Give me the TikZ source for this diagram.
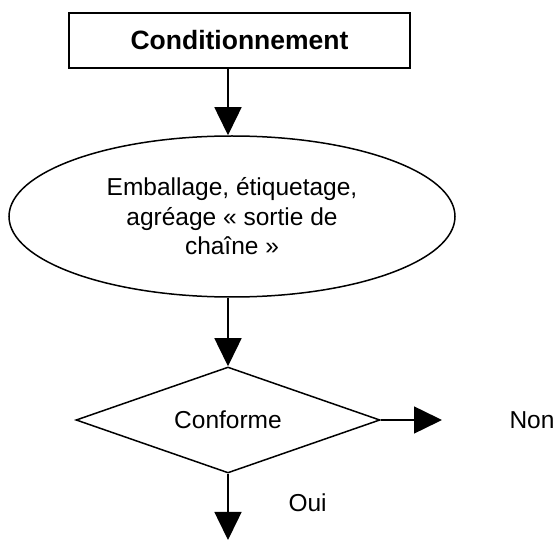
\documentclass[tikz,border=0pt]{standalone}
\usepackage{fontspec}
\setmainfont{Liberation Sans}
\usepackage{tikz}
\usetikzlibrary{shapes,arrows.meta,positioning,calc}
\tikzstyle{flow} = [-{Triangle[width=27pt,length=28pt]}, line width=1.5pt]

\begin{document}
\begin{tikzpicture}[x=1pt,y=-1pt]
    \tikzstyle{titlebox} = [rectangle, draw, line width=2.5pt, minimum width=341pt, minimum height=55pt, inner sep=0pt, font=\fontsize{26.5}{30}\selectfont\bfseries]
    \tikzstyle{process} = [ellipse, draw, line width=1.5pt, minimum width=446pt, minimum height=161pt, inner sep=0pt, align=center, font=\fontsize{24.5}{29.5}\selectfont]
    \tikzstyle{test} = [diamond, draw, line width=1.5pt, minimum width=304pt, minimum height=106pt, aspect=2.87, inner sep=0pt, font=\fontsize{24.5}{29}\selectfont]
    \useasboundingbox (0,0) rectangle (558,540);
    \node[titlebox] (cond) at (239.5,40.5) {Conditionnement};
    \node[process] (emb) at (232,216.5) {Emballage, étiquetage,\\agréage « sortie de\\chaîne »};
    \node[test] (conf) at (228,420) {Conforme};
    \coordinate (nonend) at (442,420);
    \coordinate (ouiend) at (228,540);
    \node[anchor=west, font=\fontsize{24.5}{29}\selectfont] (non) at (506,420) {Non};
    \node[anchor=west, font=\fontsize{24.5}{29}\selectfont] (oui) at (285,503) {Oui};
    \draw[flow] (cond.south -| conf.north) -- (conf.north |- emb.north);
    \draw[flow] (conf.north |- emb.south) -- (conf.north);
    \draw[flow] (conf.east) -- (nonend);
    \draw[flow] (conf.south) -- (ouiend);
\end{tikzpicture}
\end{document}
